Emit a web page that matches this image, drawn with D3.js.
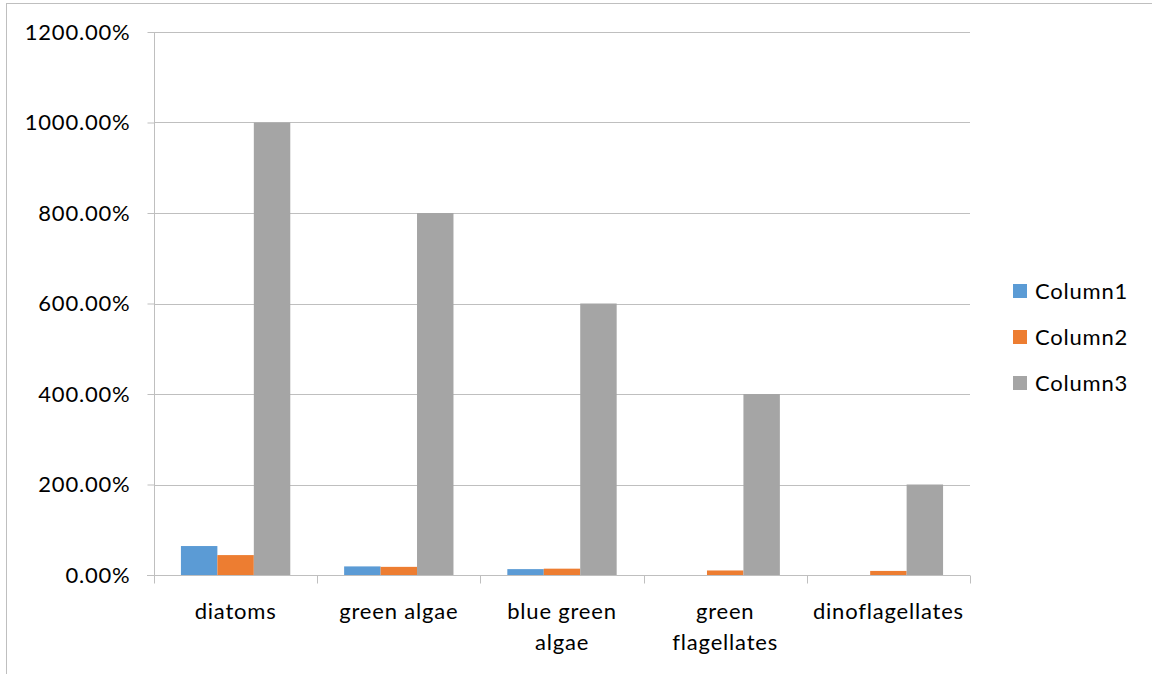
<!DOCTYPE html>
<html>
<head>
<meta charset="utf-8">
<script src="https://cdn.jsdelivr.net/npm/d3@7"></script>
<style>
  html, body { margin: 0; padding: 0; background: #fff; }
  svg { display: block; }
  text { font-family: Lato, "Open Sans", sans-serif; fill: #000; }
</style>
</head>
<body>
<svg id="chart" width="1152" height="674"></svg>
<script>
// Phytoplankton groups and their three series (percent values)
const categories = ["diatoms", "green algae", "blue green algae", "green flagellates", "dinoflagellates"];
const categoryLines = [["diatoms"], ["green algae"], ["blue green", "algae"], ["green", "flagellates"], ["dinoflagellates"]];
const seriesNames = ["Column1", "Column2", "Column3"];
const column1 = [64, 19, 13, 0, 0];
const column2 = [44, 18, 14, 10, 9];
const column3 = [1000, 800, 600, 400, 200];
const yTicks = [0, 200, 400, 600, 800, 1000, 1200];
const colors = ["#5B9BD5", "#ED7D31", "#A5A5A5"];

const seriesValues = [column1, column2, column3];
const svg = d3.select("#chart");
const axisGrey = "#BFBFBF";

// Chart frame
svg.append("rect")
  .attr("x", 6.5).attr("y", 3.5)
  .attr("width", 1160).attr("height", 700)
  .attr("fill", "none").attr("stroke", axisGrey).attr("stroke-width", 1);

const plot = { left: 154, right: 970, top: 32, bottom: 575 };

const x = d3.scaleBand()
  .domain(categories)
  .range([plot.left, plot.right])
  .paddingInner(0).paddingOuter(0);

const groupPad = 0.165; // fraction of each band left empty on either side
const xs = d3.scaleBand()
  .domain(seriesNames)
  .range([x.bandwidth() * groupPad, x.bandwidth() * (1 - groupPad)])
  .padding(0);

const y = d3.scaleLinear()
  .domain([0, 1200])
  .range([plot.bottom, plot.top]);

// Gridlines
svg.append("g")
  .selectAll("line")
  .data(yTicks.filter(d => d > 0))
  .join("line")
  .attr("x1", plot.left).attr("x2", plot.right)
  .attr("y1", d => Math.round(y(d)) + 0.5).attr("y2", d => Math.round(y(d)) + 0.5)
  .attr("stroke", axisGrey).attr("stroke-width", 1);

// Bars
const groups = svg.append("g")
  .selectAll("g")
  .data(categories)
  .join("g")
  .attr("transform", d => `translate(${x(d)},0)`);

groups.selectAll("rect")
  .data((d, i) => seriesNames.map((s, j) => ({ s, v: seriesValues[j][i], j })))
  .join("rect")
  .attr("x", d => xs(d.s))
  .attr("width", xs.bandwidth())
  .attr("y", d => y(d.v))
  .attr("height", d => y(0) - y(d.v))
  .attr("fill", d => colors[d.j]);

const labelFont = 22;
const labelSpacing = "0.8px";

// Y axis
const yAxis = d3.axisLeft(y)
  .tickValues(yTicks)
  .tickSize(7)
  .tickPadding(17)
  .tickFormat(d => d.toFixed(2) + "%");

const yg = svg.append("g")
  .attr("transform", `translate(${plot.left + 0.5},0)`)
  .call(yAxis);
yg.select(".domain").attr("stroke", axisGrey).attr("d", `M0,${plot.top}V${plot.bottom}`);
yg.selectAll(".tick line").attr("stroke", axisGrey);
yg.selectAll(".tick text")
  .attr("font-family", "Lato, 'Open Sans', sans-serif")
  .attr("font-size", labelFont)
  .attr("letter-spacing", labelSpacing)
  .attr("fill", "#000");

// X axis
const xAxis = d3.axisBottom(x).tickSize(0).tickFormat("");
const xg = svg.append("g")
  .attr("transform", `translate(0,${plot.bottom + 0.5})`)
  .call(xAxis);
xg.select(".domain").attr("stroke", axisGrey).attr("d", `M${plot.left - 7},0H${plot.right}`);

// Tick marks at band boundaries
const bounds = categories.map(c => x(c)).concat([plot.right]);
xg.append("g")
  .selectAll("line")
  .data(bounds)
  .join("line")
  .attr("x1", d => Math.round(d) + 0.5).attr("x2", d => Math.round(d) + 0.5)
  .attr("y1", 0).attr("y2", 8)
  .attr("stroke", axisGrey);

// Category labels (wrapped)
const labels = svg.append("g")
  .selectAll("text")
  .data(categories)
  .join("text")
  .attr("text-anchor", "middle")
  .attr("font-size", labelFont)
  .attr("letter-spacing", labelSpacing)
  .attr("x", d => x(d) + x.bandwidth() / 2)
  .attr("y", 619);
labels.selectAll("tspan")
  .data((d, i) => categoryLines[i])
  .join("tspan")
  .attr("x", function () { return d3.select(this.parentNode).attr("x"); })
  .attr("dy", (d, i) => i === 0 ? 0 : 31)
  .text(d => d);

// Legend
const legend = svg.append("g")
  .selectAll("g")
  .data(seriesNames)
  .join("g")
  .attr("transform", (d, i) => `translate(1013,${291 + i * 46})`);
legend.append("rect")
  .attr("y", -7)
  .attr("width", 14).attr("height", 14)
  .attr("fill", (d, i) => colors[i]);
legend.append("text")
  .attr("x", 22).attr("y", 0)
  .attr("dy", "0.35em")
  .attr("font-size", labelFont)
  .attr("letter-spacing", labelSpacing)
  .text(d => d);
</script>
</body>
</html>
